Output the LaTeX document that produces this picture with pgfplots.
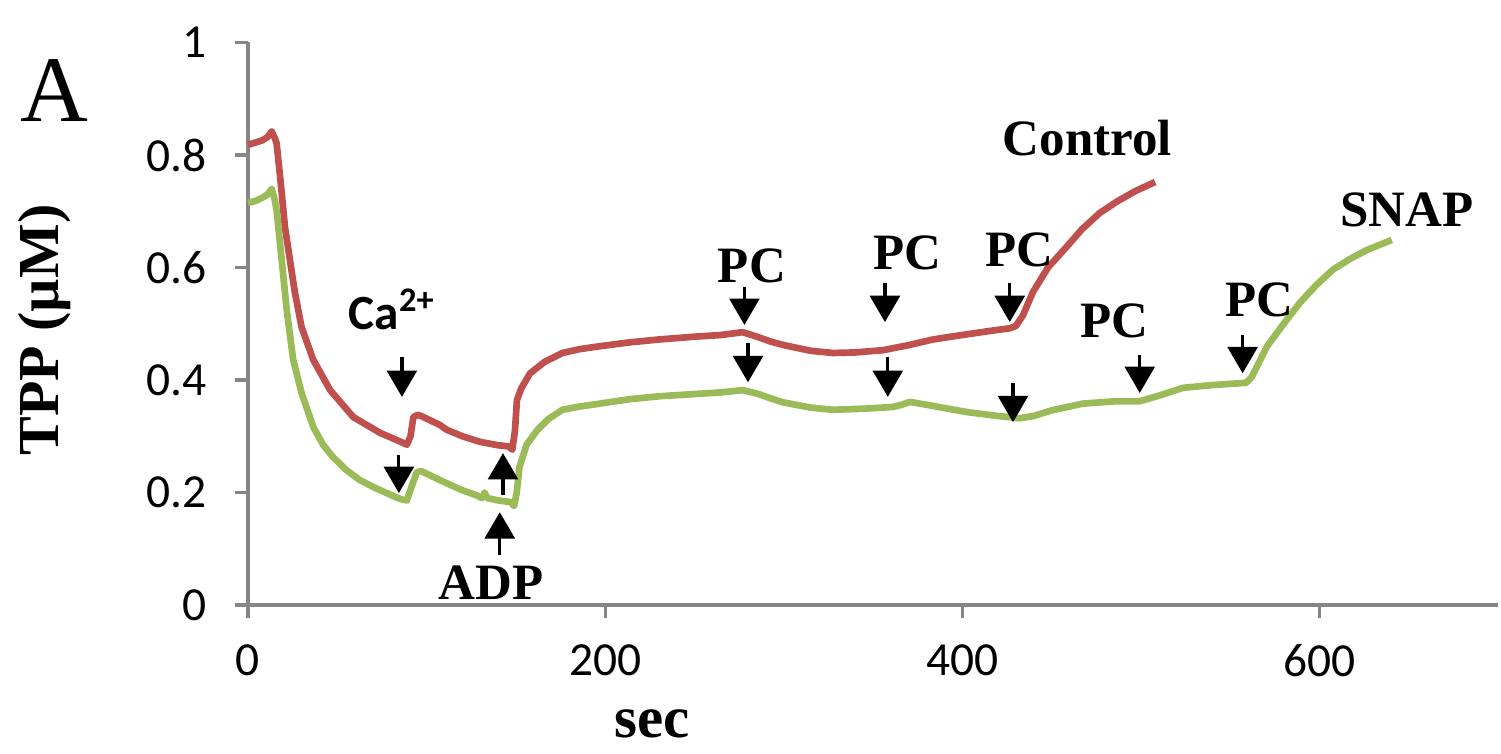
\documentclass[border=0pt]{standalone}
\usepackage{pgfplots}
\pgfplotsset{compat=1.18}
\usepackage{fontspec}
\setmainfont{Liberation Serif}
\newfontfamily\calibri{Carlito}
\usetikzlibrary{arrows.meta}
\definecolor{ctrl}{RGB}{192,80,77}
\definecolor{snap}{RGB}{155,187,89}
\definecolor{axgray}{RGB}{134,134,134}
\begin{document}
\begin{tikzpicture}
\begin{axis}[
  scale only axis, width=12.5cm, height=5.625cm,
  xmin=0, xmax=700, ymin=0, ymax=1,
  axis lines*=left,
  axis line style={axgray, line width=0.9pt},
  xtick={0,200,400,600}, ytick={0,0.2,0.4,0.6,0.8,1},
  tick align=outside, major tick length=3.7pt,
  tick style={axgray, line width=0.9pt},
  /pgf/number format/assume math mode=true,
  ticklabel style={font=\calibri\fontsize{13.5}{16}\selectfont, text=black},
  yticklabel style={xshift=-4.5pt},
  xticklabel style={yshift=-4pt},
  clip=false,
]
\addplot[ctrl, line width=1.9pt, line join=round] coordinates {
(0,0.818)(4,0.822)(8,0.826)(11,0.832)(13.3,0.842)(15,0.83)(16,0.821)(18,0.761)(20.7,0.672)(23.5,0.613)(26.3,0.555)(30,0.494)(36.5,0.436)(46,0.382)(59,0.334)(74,0.306)(87,0.288)(89,0.285)(91,0.30)(92.6,0.334)(95,0.338)(97,0.336)(107.5,0.320)(111,0.312)(120,0.300)(130,0.290)(140,0.284)(146,0.282)(148,0.276)(149.5,0.31)(150.6,0.364)(153,0.385)(158,0.412)(166,0.432)(176,0.448)(186,0.455)(197,0.460)(214,0.467)(230,0.472)(250,0.477)(265,0.480)(277,0.485)(285,0.477)(293,0.468)(300,0.462)(315,0.452)(327.5,0.448)(340,0.449)(355.6,0.453)(370,0.462)(383.5,0.472)(400,0.480)(415,0.487)(426.7,0.492)(430,0.496)(434,0.515)(439.5,0.556)(448,0.600)(458.5,0.637)(467,0.668)(477,0.697)(487,0.718)(497,0.736)(508,0.752)
};
\addplot[snap, line width=1.9pt, line join=round] coordinates {
(0,0.715)(4,0.718)(8,0.724)(11,0.73)(13.3,0.740)(15,0.72)(16,0.702)(18.9,0.613)(21.7,0.524)(25.3,0.436)(30,0.377)(36.5,0.317)(42,0.285)(47.6,0.263)(55,0.24)(62.7,0.222)(70,0.21)(77.7,0.199)(84,0.19)(87,0.187)(89,0.186)(91,0.205)(94.5,0.236)(97,0.238)(107.5,0.222)(120,0.204)(128,0.195)(131,0.19)(132.5,0.20)(134,0.19)(140,0.186)(147,0.183)(149,0.176)(150.5,0.20)(152,0.245)(156,0.285)(162,0.311)(168,0.330)(176,0.347)(186,0.353)(197,0.358)(214,0.366)(230,0.371)(250,0.375)(265,0.378)(277,0.382)(285,0.376)(293,0.367)(300,0.360)(315,0.351)(327.5,0.347)(345,0.349)(361,0.352)(366,0.356)(370.7,0.361)(380,0.356)(392,0.349)(402.6,0.343)(420,0.336)(432,0.332)(440,0.336)(450,0.346)(467.5,0.358)(485,0.362)(499,0.362)(510,0.372)(523.5,0.386)(540,0.391)(559,0.395)(562,0.405)(566,0.43)(570.5,0.459)(580,0.50)(589,0.537)(598,0.568)(607.5,0.596)(617,0.615)(626.5,0.631)(640.5,0.649)
};
% arrows
\tikzset{mk/.style={-{Triangle[width=8.5pt,length=7.5pt]}, line width=0.9pt, black}}
\draw[mk] (axis cs:86.2,0.441) -- (axis cs:86.2,0.370);
\draw[mk] (axis cs:84.5,0.267) -- (axis cs:84.5,0.199);
\draw[mk] (axis cs:142.8,0.196) -- (axis cs:142.8,0.270);
\draw[mk] (axis cs:141,0.089) -- (axis cs:141,0.165);
\draw[mk] (axis cs:278,0.565) -- (axis cs:278,0.498);
\draw[mk] (axis cs:280,0.466) -- (axis cs:280,0.396);
\draw[mk] (axis cs:356.7,0.572) -- (axis cs:356.7,0.503);
\draw[mk] (axis cs:358.3,0.441) -- (axis cs:358.3,0.370);
\draw[mk] (axis cs:426.6,0.572) -- (axis cs:426.6,0.503);
\draw[mk] (axis cs:428.4,0.395) -- (axis cs:428.4,0.325);
\draw[mk] (axis cs:499.4,0.444) -- (axis cs:499.4,0.377);
\draw[mk] (axis cs:557,0.480) -- (axis cs:557,0.412);
% labels
\tikzset{lb/.style={anchor=base, inner sep=0pt, font=\bfseries\fontsize{14.5}{17}\selectfont}}
\node[lb] at (axis cs:282.2,0.574) {PC};
\node[lb] at (axis cs:369.3,0.596) {PC};
\node[lb] at (axis cs:432.2,0.601) {PC};
\node[lb] at (axis cs:485.4,0.476) {PC};
\node[lb] at (axis cs:566.6,0.512) {PC};
\node[lb] at (axis cs:649,0.672) {SNAP};
\node[lb] at (axis cs:470,0.800) {Control};
\node[lb] at (axis cs:136,0.009) {ADP};
\node[anchor=base, inner sep=0pt, font=\calibri\bfseries\fontsize{14}{17}\selectfont] at (axis cs:80.7,0.489) {Ca\textsuperscript{2+}};
\node[anchor=base, inner sep=0pt, font=\fontsize{26.7}{30}\selectfont] at (axis cs:-108.6,0.859) {A};
\node[anchor=base, inner sep=0pt, font=\bfseries\fontsize{16.8}{20}\selectfont] at (axis cs:226.2,-0.235) {sec};
\node[rotate=90, anchor=center, inner sep=0pt, font=\bfseries\fontsize{16.5}{20}\selectfont] at (axis cs:-114.2,0.489) {TPP (µM)};
\end{axis}
\pgfresetboundingbox
\path[use as bounding box] (-2.48cm,-1.48cm) rectangle (12.53cm,6.05cm);
\end{tikzpicture}
\end{document}
